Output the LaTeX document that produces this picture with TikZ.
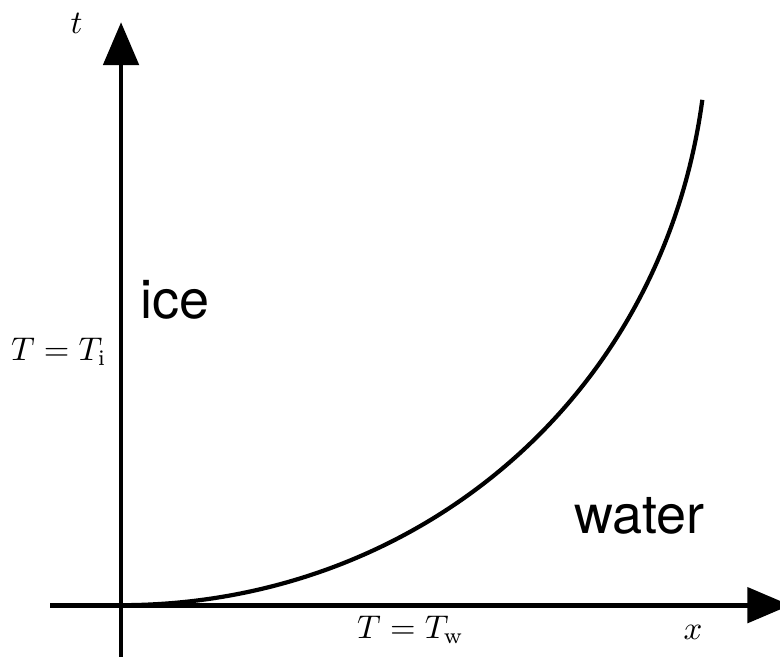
\documentclass[tikz,border=0pt]{standalone}
\usepackage{fontspec}
\setsansfont{TeX Gyre Heros}
\usepackage{tikz}
\usetikzlibrary{positioning, arrows.meta, calc}

\tikzset{
    axis/.style={line width=1.6pt, -{Triangle[length=14.3pt, width=11.7pt]}},
    front/.style={line width=1.4pt},
    phase/.style={font=\sffamily\fontsize{18}{20}\selectfont, inner sep=0pt, anchor=base west},
    lbl/.style={inner sep=0pt, font=\fontsize{10.6}{12}\selectfont}
}

\begin{document}
\begin{tikzpicture}

    \useasboundingbox (-1.418,-0.597) rectangle (7.72,7.09);

    % ================= axes =================
    \coordinate (O) at (0,0);
    \coordinate (xstart) at (-0.83,0);
    \coordinate (xend)   at (7.84,0);
    \coordinate (tstart) at (0,-0.62);
    \coordinate (tend)   at (0,6.83);

    \draw[axis] (xstart) -- (xend);
    \draw[axis] (tstart) -- (tend);

    % ================= interface =================
    \coordinate (S) at (6.81,5.92);
    \draw[front] (O) .. controls (3.40,0) and (6.33,2.37) .. (S);

    % ================= labels =================
    \node[lbl] (tlabel) at (-0.52,6.81) {$t$};
    \node[lbl] (xlabel) at (6.70,-0.32) {$x$};
    \node[lbl, anchor=base] (Ti) at (-0.73,2.87) {$T=T_\mathrm{i}$};
    \node[lbl, anchor=base] (Tw) at (3.39,-0.39) {$T=T_\mathrm{w}$};

    \node[phase] (ice)   at (0.22,3.36) {ice};
    \node[phase] (water) at (5.30,0.84) {water};

\end{tikzpicture}
\end{document}
